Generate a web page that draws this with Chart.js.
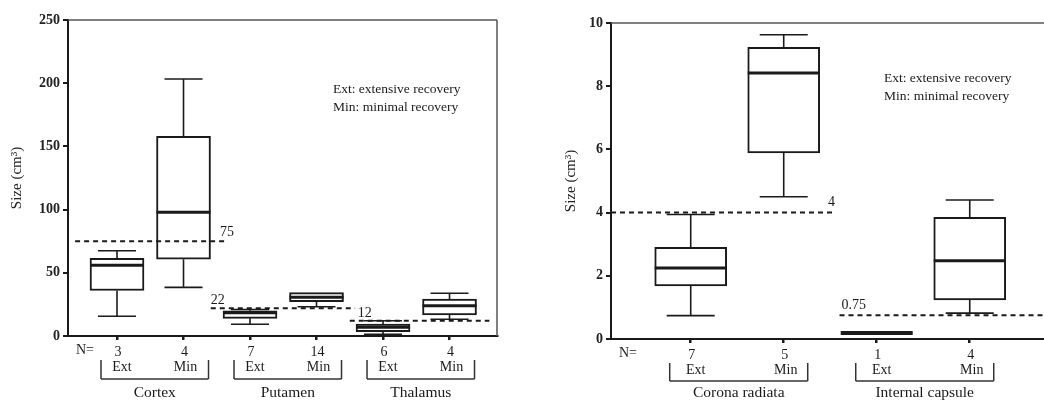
<!DOCTYPE html>
<html>
<head>
<meta charset="utf-8">
<script src="https://cdn.jsdelivr.net/npm/chart.js@4"></script>
<style>
  html, body { margin: 0; padding: 0; background: #fff; overflow: hidden; }
  #wrap { position: relative; width: 1044px; height: 401px; overflow: hidden; }
  canvas { position: absolute; top: 0; }
  #leftChart { left: 0; }
  #rightChart { left: 520px; }
</style>
</head>
<body>
<div id="wrap">
  <canvas id="leftChart" width="520" height="401"></canvas>
  <canvas id="rightChart" width="530" height="401"></canvas>
</div>
<script>
// grey matter: cortex, putamen, thalamus
const regionsA = ['Cortex', 'Putamen', 'Thalamus'];
const groupsA = ['Ext', 'Min', 'Ext', 'Min', 'Ext', 'Min'];
const nA = [3, 4, 7, 14, 6, 4];
const minA = [15.6, 38.5, 9.3, 23.2, 1.3, 13.2];
const q1A = [36, 60.7, 14, 27.1, 3.4, 16.6];
const medA = [56, 97.9, 18.4, 30.6, 6.9, 24];
const q3A = [61.5, 158, 20, 34.3, 9.5, 29.3];
const maxA = [67.5, 203.3, 21, 34.3, 12.1, 33.8];
const cutA = [75, 22, 12];
const cutLabelA = ['75', '22', '12'];

// white matter: corona radiata, internal capsule
const regionsB = ['Corona radiata', 'Internal capsule'];
const groupsB = ['Ext', 'Min', 'Ext', 'Min'];
const nB = [7, 5, 1, 4];
const minB = [0.74, 4.5, 0.19, 0.82];
const q1B = [1.68, 5.89, 0.19, 1.24];
const medB = [2.25, 8.42, 0.19, 2.48];
const q3B = [2.9, 9.23, 0.19, 3.85];
const maxB = [3.94, 9.63, 0.19, 4.4];
const cutB = [4, 0.75];
const cutLabelB = ['4', '0.75'];

const SERIF = "'Liberation Serif', 'Times New Roman', serif";
const INK = '#1a1a1a';

// where each dashed cut-off runs along the category axis, and where its number sits
const cutSpanA = [[-0.63, 1.67, 'end', -8, -9], [1.41, 3.58, 'start', 0, -8], [3.5, 5.6, 'start', 8, -8]];
const cutSpanB = [[-0.86, 1.53, 'end', -5, -10], [1.6, 3.9, 'start', 2, -10]];

function line(ctx, x1, y1, x2, y2) {
  ctx.beginPath();
  ctx.moveTo(x1, y1);
  ctx.lineTo(x2, y2);
  ctx.stroke();
}

const boxPlot = {
  id: 'boxPlot',
  afterDatasetsDraw(chart, args, o) {
    const { ctx, chartArea: a, scales: { x, y } } = chart;
    ctx.save();

    // top and right frame
    ctx.strokeStyle = '#555';
    ctx.lineWidth = 1.5;
    line(ctx, a.left, a.top, a.right, a.top);
    line(ctx, a.right, a.top, a.right, a.bottom);

    // whiskers, caps and medians
    ctx.strokeStyle = INK;
    o.med.forEach((m, i) => {
      const cx = x.getPixelForValue(i);
      const hw = o.box / 2, cw = o.cap / 2;
      const py = v => y.getPixelForValue(v);
      ctx.lineWidth = 1.6;
      if (o.max[i] > o.q3[i]) {
        line(ctx, cx, py(o.q3[i]), cx, py(o.max[i]));
        line(ctx, cx - cw, py(o.max[i]), cx + cw, py(o.max[i]));
      }
      if (o.min[i] < o.q1[i]) {
        line(ctx, cx, py(o.q1[i]), cx, py(o.min[i]));
        line(ctx, cx - cw, py(o.min[i]), cx + cw, py(o.min[i]));
      }
      ctx.lineWidth = o.q1[i] === o.q3[i] ? 4 : 3;
      line(ctx, cx - hw, py(m), cx + hw, py(m));
    });

    // dashed cut-off lines
    ctx.font = '14px ' + SERIF;
    ctx.fillStyle = INK;
    ctx.textBaseline = 'middle';
    o.cuts.forEach((c, i) => {
      const [s, e, anchor, dx, dy] = o.spans[i];
      const yy = y.getPixelForValue(c);
      const x1 = Math.max(x.getPixelForValue(s), a.left);
      const x2 = x.getPixelForValue(e);
      ctx.setLineDash([5, 4]);
      ctx.lineWidth = 2;
      line(ctx, x1, yy, x2, yy);
      ctx.setLineDash([]);
      ctx.textAlign = 'left';
      ctx.fillText(o.cutLabels[i], (anchor === 'end' ? x2 : x1) + dx, yy + dy);
    });

    // key
    ctx.font = '13.5px ' + SERIF;
    ctx.textAlign = 'left';
    ctx.fillText('Ext: extensive recovery', a.right - o.keyDx, a.top + o.keyDy);
    ctx.fillText('Min: minimal recovery', a.right - o.keyDx, a.top + o.keyDy + 18);

    // N counts, groups and region brackets under the axis
    const b = a.bottom;
    ctx.textAlign = 'center';
    ctx.font = '14px ' + SERIF;
    ctx.fillText('N=', a.left + 17, b + 14);
    o.n.forEach((n, i) => {
      const cx = x.getPixelForValue(i);
      ctx.fillText(String(n), cx + 1, b + 16);
      ctx.fillText(o.groups[i], cx + (o.groups[i] === 'Ext' ? 5 : 2), b + 31);
    });
    ctx.lineWidth = 1.5;
    ctx.strokeStyle = '#333';
    o.regions.forEach((r, k) => {
      const l = x.getPixelForValue(2 * k) + o.brL;
      const rr = x.getPixelForValue(2 * k + 1) + o.brR;
      line(ctx, l, b + 24, l, b + o.brY);
      line(ctx, rr, b + 24, rr, b + o.brY);
      line(ctx, l, b + o.brY, rr, b + o.brY);
      ctx.font = '15.5px ' + SERIF;
      ctx.fillText(r, (l + rr) / 2, b + o.regionY);
    });
    ctx.restore();
  }
};

function makeChart(id, s) {
  const boxes = s.q1.map((q, i) => ({ x: i, y: [q, s.q3[i]] }));
  return new Chart(document.getElementById(id), {
    type: 'bar',
    data: {
      datasets: [{
        data: boxes,
        backgroundColor: '#fff',
        borderColor: INK,
        borderWidth: 2,
        borderSkipped: false,
        barThickness: s.box
      }]
    },
    options: {
      responsive: false,
      animation: false,
      devicePixelRatio: 1,
      layout: { padding: s.padding },
      plugins: {
        legend: { display: false },
        tooltip: { enabled: false },
        boxPlot: s
      },
      scales: {
        x: {
          type: 'linear',
          offset: false,
          min: s.xMin,
          max: s.xMax,
          afterBuildTicks: sc => { sc.ticks = s.n.map((_, i) => ({ value: i })); },
          afterFit: sc => { sc.height = s.xHeight; },
          ticks: { display: false },
          grid: { offset: false, drawOnChartArea: false, drawTicks: true, tickLength: 4, color: INK, lineWidth: 2.5 },
          border: { display: true, color: INK, width: 2 }
        },
        y: {
          min: 0,
          max: s.yMax,
          afterFit: sc => { sc.width = s.yWidth; },
          ticks: {
            stepSize: s.yStep,
            color: '#222',
            padding: 3,
            font: { family: SERIF, size: 14, weight: 'bold' }
          },
          grid: { drawOnChartArea: false, drawTicks: true, tickLength: 5, color: INK, lineWidth: 2 },
          border: { display: true, color: INK, width: 2 },
          title: {
            display: true,
            text: 'Size (cm³)',
            color: '#222',
            padding: { top: s.titlePad, bottom: 0 },
            font: { family: SERIF, size: 15 }
          }
        }
      }
    },
    plugins: [boxPlot]
  });
}

makeChart('leftChart', {
  min: minA, q1: q1A, med: medA, q3: q3A, max: maxA,
  n: nA, groups: groupsA, regions: regionsA,
  cuts: cutA, cutLabels: cutLabelA, spans: cutSpanA,
  xMin: -0.737, xMax: 5.714, yMax: 250, yStep: 50,
  box: 54, cap: 38, brL: -16, brR: 25, brY: 43, regionY: 57,
  keyDx: 164, keyDy: 69,
  padding: { left: 0, top: 20, right: 23, bottom: 0 },
  yWidth: 68, xHeight: 65, titlePad: 8
});

makeChart('rightChart', {
  min: minB, q1: q1B, med: medB, q3: q3B, max: maxB,
  n: nB, groups: groupsB, regions: regionsB,
  cuts: cutB, cutLabels: cutLabelB, spans: cutSpanB,
  xMin: -0.857, xMax: 3.863, yMax: 10, yStep: 2,
  box: 72, cap: 48, brL: -21, brR: 24, brY: 42, regionY: 54,
  keyDx: 166, keyDy: 55,
  padding: { left: 38, top: 23, right: 0, bottom: 0 },
  yWidth: 53, xHeight: 62, titlePad: 4
});
</script>
</body>
</html>
